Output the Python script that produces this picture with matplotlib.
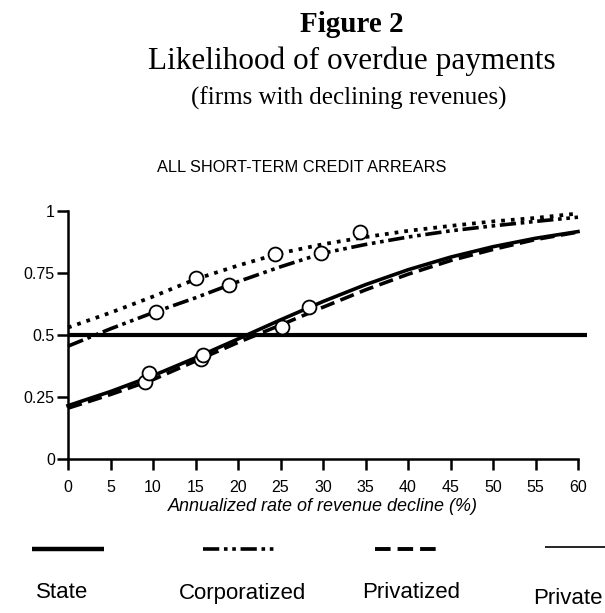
import matplotlib
matplotlib.use('Agg')
from matplotlib import pyplot as plt
from matplotlib.lines import Line2D

# x grid for the fitted curves (annualized rate of revenue decline, %)
decline = [0, 5, 10, 15, 20, 25, 30, 35, 40, 45, 50, 55, 60]

# curves
state = [0.215, 0.272, 0.336, 0.408, 0.484, 0.561, 0.635, 0.703, 0.763, 0.814, 0.856, 0.890, 0.917]
corporatized = [0.455, 0.525, 0.59, 0.65, 0.715, 0.775, 0.83, 0.865, 0.895, 0.92, 0.94, 0.958, 0.975]
privatized = [0.205, 0.26, 0.32, 0.395, 0.47, 0.54, 0.612, 0.682, 0.745, 0.80, 0.845, 0.885, 0.915]
private = [0.53, 0.59, 0.655, 0.725, 0.78, 0.83, 0.866, 0.895, 0.92, 0.94, 0.958, 0.972, 0.99]

# observed points (open circles)
state_pts_x = [9.5, 15.9, 28.4]
state_pts_y = [0.346, 0.42, 0.612]
corp_pts_x = [10.3, 18.9, 29.8]
corp_pts_y = [0.594, 0.703, 0.829]
priv_pts_x = [9.0, 15.6, 25.2]
priv_pts_y = [0.309, 0.405, 0.531]
private_pts_x = [15.0, 24.3, 34.4]
private_pts_y = [0.731, 0.825, 0.914]

threshold = 0.5
threshold_end = 61.1

x_ticks = list(range(0, 61, 5))
y_ticks = [0, 0.25, 0.5, 0.75, 1]
y_tick_labels = ['0', '0.25', '0.5', '0.75', '1']

legend_labels = ['State', 'Corporatized', 'Privatized', 'Private']

SOLID = '-'
DASHDOTDOT = (0, (4.5, 1.3, 1, 1.3, 1, 1.3))
DASHED = (0, (4, 1.8))
DOTTED = (0, (1, 1.6))

plt.rcParams['font.family'] = ['Liberation Sans', 'DejaVu Sans']

fig = plt.figure(figsize=(6.05, 6.13), dpi=100)
ax = fig.add_axes([68 / 605, 1 - 459 / 613, 510 / 605, 248 / 613])

# threshold line
ax.plot([0, threshold_end], [threshold, threshold], color='black', lw=3,
        solid_capstyle='butt', clip_on=False, zorder=2)

ax.plot(decline, private, color='black', lw=2.7, linestyle=DOTTED, clip_on=False, zorder=3)
ax.plot(decline, corporatized, color='black', lw=2.6, linestyle=DASHDOTDOT, clip_on=False, zorder=3)
ax.plot(decline, privatized, color='black', lw=2.6, linestyle=DASHED, clip_on=False, zorder=3)
ax.plot(decline, state, color='black', lw=2.6, linestyle=SOLID, clip_on=False, zorder=3)

marker_style = dict(linestyle='none', marker='o', markersize=10, markerfacecolor='white',
                    markeredgecolor='black', markeredgewidth=1.3, clip_on=False, zorder=5)
ax.plot(private_pts_x, private_pts_y, **marker_style)
ax.plot(corp_pts_x, corp_pts_y, **marker_style)
ax.plot(priv_pts_x, priv_pts_y, **marker_style)
ax.plot(state_pts_x, state_pts_y, **marker_style)

ax.set_xlim(0, 60)
ax.set_ylim(0, 1)
ax.set_xticks(x_ticks)
ax.set_xticklabels([str(t) for t in x_ticks])
ax.set_yticks(y_ticks)
ax.set_yticklabels(y_tick_labels)
for side in ['top', 'right']:
    ax.spines[side].set_visible(False)
for side in ['left', 'bottom']:
    ax.spines[side].set_linewidth(1.8)
ax.tick_params(direction='out', length=8, width=1.8, labelsize=11.5)
ax.tick_params(axis='y', pad=1.5)
ax.tick_params(axis='x', pad=7)
ax.set_xlabel('Annualized rate of revenue decline (%)', fontsize=13, style='italic', labelpad=2)

# titles
fig.text(352 / 605, 1 - 32 / 613, 'Figure 2', ha='center', va='baseline',
         family='Liberation Serif', weight='bold', fontsize=21)
fig.text(352 / 605, 1 - 69 / 613, 'Likelihood of overdue payments', ha='center', va='baseline',
         family='Liberation Serif', fontsize=22.5)
fig.text(349 / 605, 1 - 105 / 613, '(firms with declining revenues)', ha='center', va='baseline',
         family='Liberation Serif', fontsize=18)
fig.text(302 / 605, 1 - 167 / 613, 'ALL SHORT-TERM CREDIT ARREARS', ha='center', va='center',
         fontsize=11.8)

# legend along the bottom, labels under the line samples
legend_styles = [(SOLID, 3.2), (DASHDOTDOT, 2.6), (DASHED, 2.8), (SOLID, 1.2)]
legend_spans = [(32, 104), (203, 274), (375, 440), (545, 610)]
legend_line_y = [549, 549, 549, 547]
legend_text_x = [62, 242, 411, 603]
legend_text_ha = ['center', 'center', 'center', 'right']
legend_text_y = [593, 593, 593, 599]
for label, (ls, lw), (x0, x1), ly, tx, ha, ty in zip(legend_labels, legend_styles, legend_spans,
                                                      legend_line_y, legend_text_x, legend_text_ha,
                                                      legend_text_y):
    fig.add_artist(Line2D([x0 / 605, x1 / 605], [1 - ly / 613, 1 - ly / 613],
                          transform=fig.transFigure, color='black', lw=lw, linestyle=ls,
                          solid_capstyle='butt'))
    fig.text(tx / 605, 1 - ty / 613, label, ha=ha, va='center', fontsize=16)

fig.savefig('out.png', dpi=100)
